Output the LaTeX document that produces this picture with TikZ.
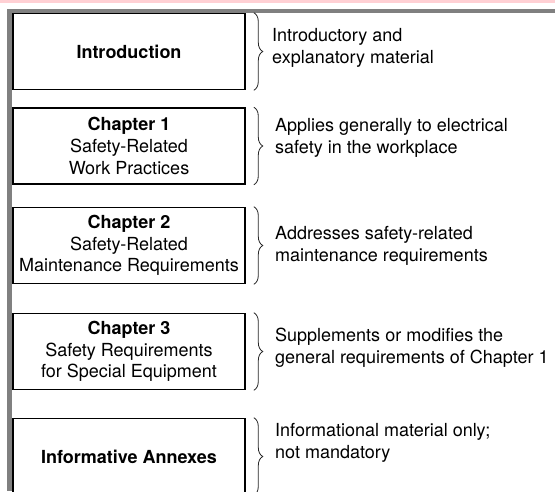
\documentclass[tikz,border=0pt]{standalone}
\usepackage{fontspec}
\setmainfont{TeX Gyre Heros}
\usepackage{xcolor}
\usetikzlibrary{positioning,decorations.pathreplacing,calc}
\definecolor{bandpink}{RGB}{255,208,212}
\definecolor{bargray}{RGB}{128,128,128}

\begin{document}
\begin{tikzpicture}[x=1pt,y=-1pt,
	partbox/.style={draw,line width=1.6pt,minimum width=232pt,minimum height=76pt,inner sep=0pt,align=center,font=\fontsize{18}{21.6}\selectfont},
	note/.style={anchor=west,align=left,inner sep=0pt,font=\fontsize{18}{21.6}\selectfont},
	curly/.style={decorate,decoration={brace,amplitude=9pt},line width=0.8pt,black!85}]
	\useasboundingbox (0,0) rectangle (555,491);
	\fill[bandpink] (0,0) rectangle (555,3);
	\fill[bargray] (7.3,8.7) rectangle (555,12.7);
	\fill[bargray] (7.3,8.7) rectangle (12,491);
	% boxes
	\node[partbox] (intro) at (129,51.5) {\textbf{Introduction}};
	\node[partbox] (chI) at (129,146) {\textbf{Chapter 1}\\Safety-Related\\Work Practices};
	\node[partbox] (chII) at (129,245.5) {\textbf{Chapter 2}\\Safety-Related\\Maintenance Requirements};
	\node[partbox] (chIII) at (129,351.5) {\textbf{Chapter 3}\\Safety Requirements\\for Special Equipment};
	\node[partbox] (annex) at (129,456.5) {\textbf{Informative Annexes}};
	% braces
	\foreach \b in {intro,chI,chII,chIII,annex}
		\draw[curly] ($(\b.north east)+(8,0)$) -- ($(\b.south east)+(8,0)$);
	% notes
	\node[note] (introtxt) at (272,48) {Introductory and\\explanatory material};
	\node[note] (chItxt) at (275,138) {Applies generally to electrical\\safety in the workplace};
	\node[note] (chIItxt) at (275,246) {Addresses safety-related\\maintenance requirements};
	\node[note] (chIIItxt) at (275,348) {Supplements or modifies the\\general requirements of Chapter 1};
	\node[note] (annextxt) at (275,443) {Informational material only;\\not mandatory};
\end{tikzpicture}
\end{document}
